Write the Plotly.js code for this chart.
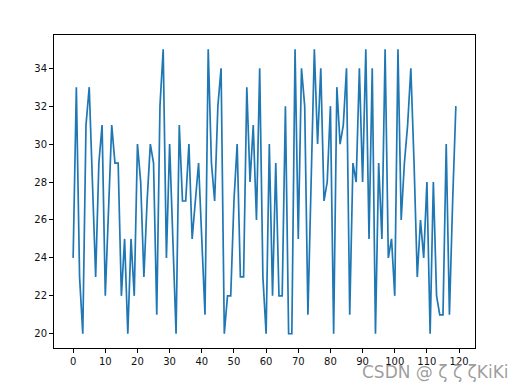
<!DOCTYPE html>
<html>
<head>
<meta charset="utf-8">
<script src="https://cdn.plot.ly/plotly-3.0.1.min.js"></script>
<style>html,body{margin:0;padding:0;background:#fff;}#chart{width:526px;height:391px;}</style>
</head>
<body>
<div id="chart"></div>
<script>
// values, index 0..119
const values = [
  24, 33, 23, 20, 31, 33, 28, 23, 29, 31,
  22, 27, 31, 29, 29, 22, 25, 20, 25, 22,
  30, 28, 23, 27, 30, 29, 21, 32, 35, 24,
  30, 25, 20, 31, 27, 27, 30, 25, 27, 29,
  25, 21, 35, 29, 27, 32, 34, 20, 22, 22,
  27, 30, 23, 23, 33, 28, 31, 26, 34, 23,
  20, 30, 22, 29, 22, 22, 32, 20, 20, 35,
  25, 34, 32, 21, 28, 35, 30, 34, 27, 28,
  32, 20, 33, 30, 31, 34, 21, 29, 28, 34,
  28, 35, 25, 34, 20, 29, 25, 35, 24, 25,
  22, 35, 26, 29, 31, 34, 29, 23, 26, 24,
  28, 20, 28, 22, 21, 21, 30, 21, 27, 32
];
const xs = values.map((v, i) => i);
const xTicks = [0, 10, 20, 30, 40, 50, 60, 70, 80, 90, 100, 110, 120];
const yTicks = [20, 22, 24, 26, 28, 30, 32, 34];
const watermark = "CSDN @ ζ ζ ζKiKi";

const axisFont = {family: "DejaVu Sans", size: 10, color: "#111"};
Plotly.newPlot("chart", [{
  x: xs, y: values, type: "scatter", mode: "lines",
  line: {color: "#1f77b4", width: 1.7},
  hoverinfo: "none"
}], {
  width: 526, height: 391,
  margin: {l: 54, r: 51, t: 35, b: 43, pad: 0},
  paper_bgcolor: "#fff", plot_bgcolor: "#fff",
  showlegend: false,
  xaxis: {
    range: [-5.95, 124.95], tickvals: xTicks, ticktext: xTicks.map(String),
    showgrid: false, zeroline: false, showline: true, mirror: true,
    linecolor: "#000", linewidth: 1, ticks: "outside", ticklen: 4,
    tickcolor: "#000", tickwidth: 1, tickfont: axisFont
  },
  yaxis: {
    range: [19.25, 35.75], tickvals: yTicks, ticktext: yTicks.map(String),
    showgrid: false, zeroline: false, showline: true, mirror: true,
    linecolor: "#000", linewidth: 1, ticks: "outside", ticklen: 4,
    tickcolor: "#000", tickwidth: 1, tickfont: axisFont
  },
  annotations: [{
    text: watermark, xref: "paper", yref: "paper",
    x: (511 - 54) / 421, y: -(372 - 348) / 313, xanchor: "right", yanchor: "middle",
    showarrow: false,
    font: {family: "DejaVu Sans", size: 17, color: "rgba(140,140,140,0.85)"}
  }]
}, {displayModeBar: false, staticPlot: true});
</script>
</body>
</html>
